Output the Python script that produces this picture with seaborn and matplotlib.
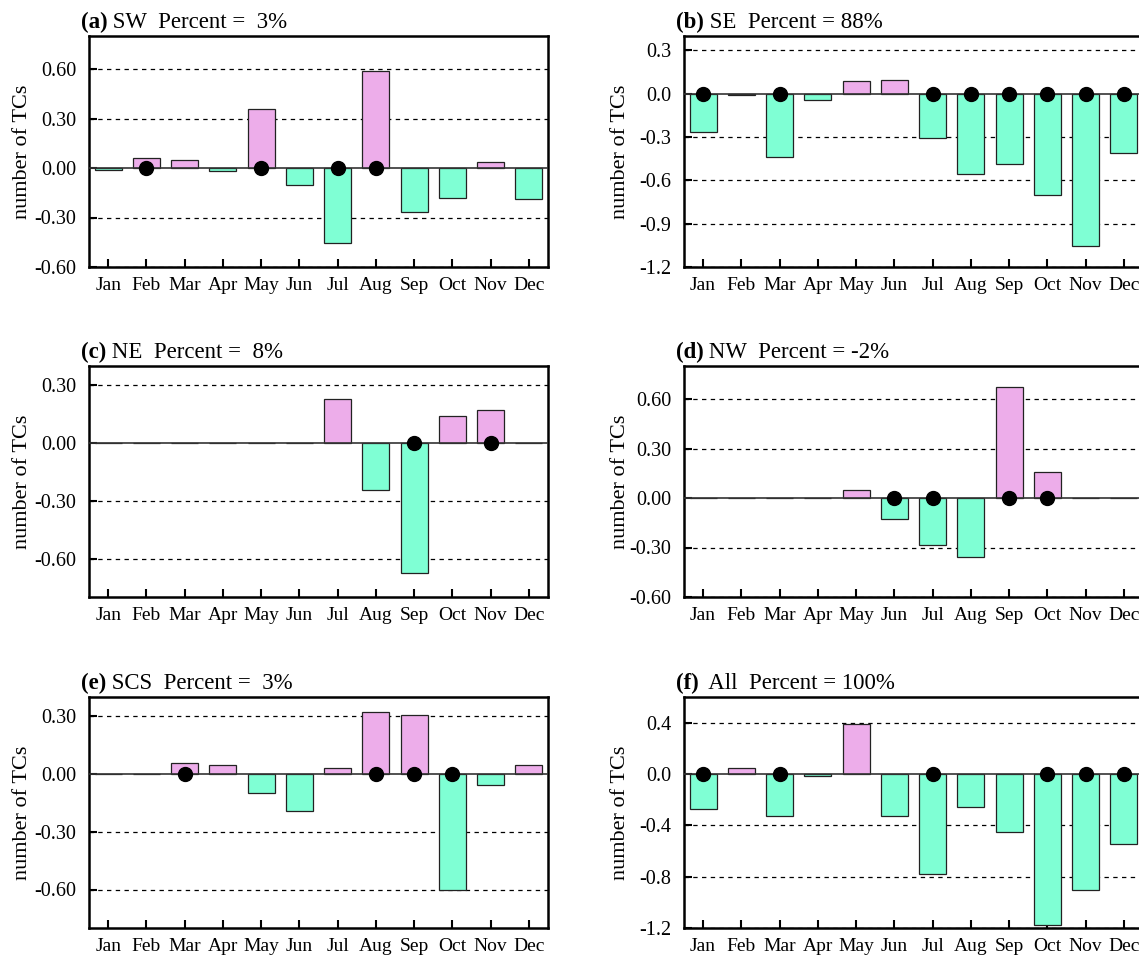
import numpy as np
import pandas as pd
import seaborn as sns
import matplotlib.pyplot as plt

plt.rcParams['font.family'] = ['Liberation Serif', 'DejaVu Serif']

months = ["Jan", "Feb", "Mar", "Apr", "May", "Jun",
          "Jul", "Aug", "Sep", "Oct", "Nov", "Dec"]

# monthly anomalies (number of TCs) per region
sw = [-0.01, 0.06, 0.05, -0.02, 0.355, -0.105, -0.455, 0.585, -0.265, -0.18, 0.035, -0.19]
se = [-0.265, -0.01, -0.44, -0.04, 0.085, 0.095, -0.305, -0.555, -0.49, -0.70, -1.055, -0.41]
ne = [0.0, 0.0, 0.0, 0.0, 0.0, 0.0, 0.23, -0.245, -0.675, 0.14, 0.17, 0.0]
nw = [0.0, 0.0, 0.0, 0.0, 0.05, -0.13, -0.285, -0.36, 0.675, 0.16, 0.0, 0.0]
scs = [0.0, 0.0, 0.055, 0.048, -0.098, -0.19, 0.033, 0.32, 0.305, -0.603, -0.057, 0.048]
all_tc = [-0.27, 0.05, -0.33, -0.013, 0.387, -0.325, -0.777, -0.255, -0.449, -1.18, -0.90, -0.545]

# months marked as significant (black dots)
sig_sw = ["Feb", "May", "Jul", "Aug"]
sig_se = ["Jan", "Mar", "Jul", "Aug", "Sep", "Oct", "Nov", "Dec"]
sig_ne = ["Sep", "Nov"]
sig_nw = ["Jun", "Jul", "Sep", "Oct"]
sig_scs = ["Mar", "Aug", "Sep", "Oct"]
sig_all = ["Jan", "Mar", "Jul", "Oct", "Nov", "Dec"]

panel_tags = ["(a)", "(b)", "(c)", "(d)", "(e)", "(f)"]
panel_names = [" SW  Percent =  3%", " SE  Percent = 88%", " NE  Percent =  8%",
               " NW  Percent = -2%", " SCS  Percent =  3%", "  All  Percent = 100%"]
series = [sw, se, ne, nw, scs, all_tc]
signif = [sig_sw, sig_se, sig_ne, sig_nw, sig_scs, sig_all]
yticks = [[-0.6, -0.3, 0.0, 0.3, 0.6],
          [-1.2, -0.9, -0.6, -0.3, 0.0, 0.3],
          [-0.6, -0.3, 0.0, 0.3],
          [-0.6, -0.3, 0.0, 0.3, 0.6],
          [-0.6, -0.3, 0.0, 0.3],
          [-1.2, -0.8, -0.4, 0.0, 0.4]]
ylims = [(-0.6, 0.8), (-1.2, 0.4), (-0.8, 0.4), (-0.6, 0.8), (-0.8, 0.4), (-1.2, 0.6)]
fmts = ["%.2f", "%.1f", "%.2f", "%.2f", "%.2f", "%.1f"]

pos_color = "#EDADEA"
neg_color = "#7FFFD4"

fig = plt.figure(figsize=(11.39, 9.58), dpi=100)
W, H = 1139, 958
lefts = [89, 684]
label_off = [57, 54]
tops = [36, 366, 697]
aw, ah = 459, 231

for i in range(6):
    row, col = i // 2, i % 2
    ax = fig.add_axes([lefts[col] / W, 1 - (tops[row] + ah) / H, aw / W, ah / H])
    vals = series[i]
    df = pd.DataFrame({"month": months, "value": vals})
    colors = [pos_color if v > 0 else neg_color for v in vals]

    # dashed grid + zero line under the bars
    for yt in yticks[i]:
        if yt != 0:
            ax.axhline(yt, color="black", lw=0.9, ls=(0, (3.5, 3.5)), zorder=0)
    sns.barplot(data=df, x="month", y="value", hue="month", palette=colors,
                legend=False, width=0.7, saturation=1, edgecolor="#222222",
                linewidth=0.9, ax=ax, zorder=2)
    ax.axhline(0, color="#333333", lw=1.2, zorder=3)

    idx = [months.index(m) for m in signif[i]]
    ax.scatter(idx, np.zeros(len(idx)), s=100, color="black", zorder=5, clip_on=False)

    ax.set_xlim(-0.5, 11.5)
    ax.set_ylim(*ylims[i])
    ax.set_yticks(yticks[i])
    ax.set_yticklabels([fmts[i] % t for t in yticks[i]], fontsize=14.5)
    ax.set_xticks(range(12))
    ax.set_xticklabels(months, fontsize=14)
    ax.tick_params(axis="both", direction="in", length=6, width=1.5, pad=7)
    ax.tick_params(axis="y", pad=9)
    ax.set_xlabel("")
    ax.set_ylabel("number of TCs", fontsize=16)
    ax.yaxis.set_label_coords(-label_off[col] / aw, 0.5)
    for sp in ax.spines.values():
        sp.set_linewidth(1.8)
        sp.set_color("black")

    tag = ax.text(-0.018, 1 + 8 / ah, panel_tags[i], transform=ax.transAxes,
                  fontsize=16.5, fontweight="bold", ha="left", va="baseline")
    ax.annotate(panel_names[i], xy=(1, 0), xycoords=tag, ha="left", va="bottom",
                fontsize=16.5)

fig.savefig("out.png", dpi=100)
